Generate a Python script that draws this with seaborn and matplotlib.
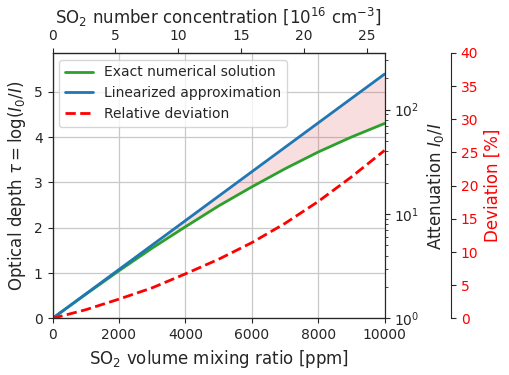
import numpy as np
import seaborn as sns
import matplotlib
matplotlib.use("Agg")
import matplotlib.pyplot as plt

# values
mixing_ratio = [0, 1000, 2000, 3000, 4000, 5000, 6000, 7000, 8000, 9000, 10000]   # ppm
tau_exact = [0.0, 0.53, 1.05, 1.55, 2.02, 2.48, 2.90, 3.30, 3.67, 4.00, 4.30]
linear_ratio = [0, 10000]
tau_linear = [0.0, 5.39]
deviation = [0.0, 1.3, 2.9, 4.6, 6.7, 8.9, 11.4, 14.3, 17.6, 21.3, 25.3]       # %

ratio_ticks = [0, 2000, 4000, 6000, 8000, 10000]
conc_ticks = [0, 5, 10, 15, 20, 25]
dev_ticks = [0, 5, 10, 15, 20, 25, 30, 35, 40]
conc_per_ppm = 2.64e-3   # 10^16 cm^-3 per ppm
att_max = 350

sns.set_style("ticks")
plt.rcParams["font.family"] = ["DejaVu Sans"]
plt.rcParams["font.size"] = 10
plt.rcParams["axes.labelsize"] = 12

fig = plt.figure(figsize=(5.1, 3.75), dpi=100)
ax = fig.add_axes([0.103, 0.151, 0.651, 0.708])

# shaded gap between the two optical depth curves
lin_on_grid = np.interp(mixing_ratio, linear_ratio, tau_linear)
ax.fill_between(mixing_ratio, tau_exact, lin_on_grid, color="tab:red", alpha=0.15, lw=0, zorder=1)

sns.lineplot(x=mixing_ratio, y=tau_exact, color="#2ca02c", lw=2,
             label="Exact numerical solution", ax=ax, zorder=3)
sns.lineplot(x=linear_ratio, y=tau_linear, color="#1f77b4", lw=2,
             label="Linearized approximation", ax=ax, zorder=3)

ax.set_xlim(0, 10000)
ax.set_ylim(0, np.log(att_max))
ax.set_xticks(ratio_ticks)
ax.set_xlabel(r"SO$_2$ volume mixing ratio [ppm]")
ax.set_ylabel(r"Optical depth $\tau = \log(I_0/I)$")
ax.grid(True, color="#c8c8c8", lw=0.9)

# top axis: number concentration
top = ax.secondary_xaxis("top", functions=(lambda v: v * conc_per_ppm, lambda c: c / conc_per_ppm))
top.set_xticks(conc_ticks)
top.set_xlabel(r"SO$_2$ number concentration [10$^{16}$ cm$^{-3}$]")

# inner right axis: attenuation on log scale
ax_att = ax.twinx()
ax_att.set_yscale("log")
ax_att.set_ylim(1, att_max)
ax_att.set_ylabel(r"Attenuation $I_0/I$")

# outer right axis: relative deviation
ax_dev = ax.twinx()
ax_dev.spines["right"].set_position(("axes", 1.2))
sns.lineplot(x=mixing_ratio, y=deviation, color="red", lw=2, ls="--",
             label="Relative deviation", ax=ax_dev)
ax_dev.set_ylim(0, 40)
ax_dev.set_yticks(dev_ticks)
ax_dev.tick_params(axis="y", labelcolor="red")
ax_dev.set_ylabel("Deviation [%]", color="red")

for a in (ax, ax_dev):
    if a.get_legend() is not None:
        a.get_legend().remove()

h1, l1 = ax.get_legend_handles_labels()
h2, l2 = ax_dev.get_legend_handles_labels()
ax_dev.legend(h1 + h2, l1 + l2, loc="upper left", fontsize=10)

fig.savefig("out.png", dpi=100)
